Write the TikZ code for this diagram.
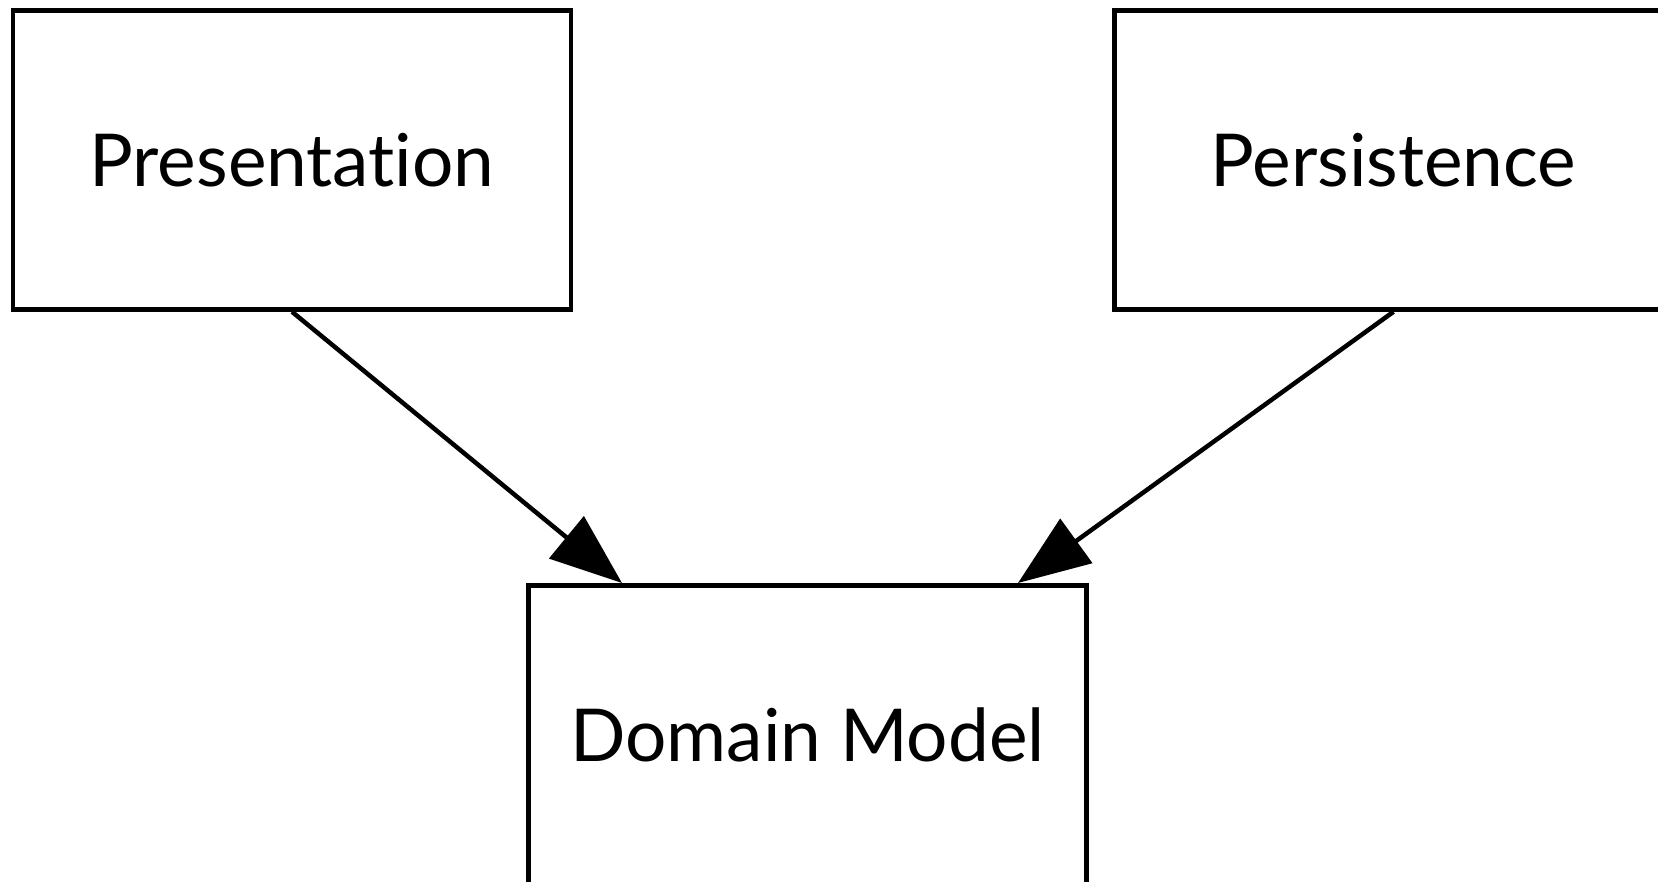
\documentclass[tikz,border=0pt]{standalone}
\usepackage{fontspec}
\setmainfont{Lato}[Ligatures=NoCommon]
\usetikzlibrary{arrows.meta}
\begin{document}
\begin{tikzpicture}[x=1pt,y=-1pt,
  layer/.style={draw=black, line width=4.5pt, rectangle, minimum width=558pt,
    minimum height=299pt, inner sep=0pt, font=\fontsize{73}{86}\selectfont},
  dep/.style={draw=black, line width=4.5pt,
    -{Triangle[length=72pt, width=54pt]}}]
  \clip (0,0) rectangle (1658,882);
  \fill[white] (0,0) rectangle (1658,882);
  \node[layer] (pres) at (292,160) {Presentation};
  \node[layer] (pers) at (1393.5,160) {Persistence};
  \node[layer] (dom) at (807.5,735) {Domain Model};
  \coordinate (tipL) at (622,583);
  \coordinate (tipR) at (1018,583);
  \draw[dep] (pres.south) -- (tipL);
  \draw[dep] (pers.south) -- (tipR);
\end{tikzpicture}
\end{document}
